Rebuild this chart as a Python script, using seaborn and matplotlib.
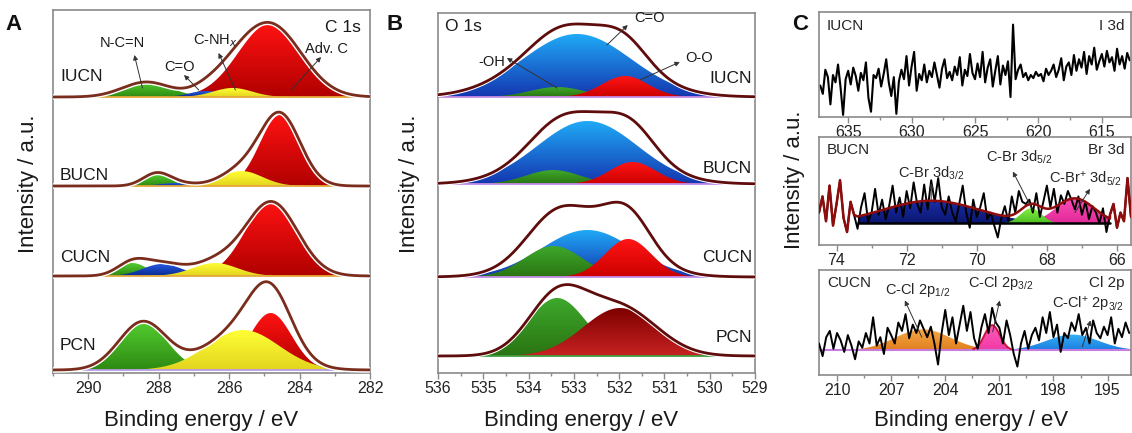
import numpy as np
import matplotlib
matplotlib.use('Agg')
import matplotlib.pyplot as plt
from matplotlib.colors import LinearSegmentedColormap
from matplotlib.ticker import MultipleLocator
import seaborn as sns

sns.set_theme(style='white')
plt.rcParams['font.family'] = ['Liberation Sans', 'DejaVu Sans']
plt.rcParams['mathtext.default'] = 'regular'
plt.rcParams['axes.unicode_minus'] = False

# ==================== data ====================
samples = ['IUCN', 'BUCN', 'CUCN', 'PCN']

# panel A, C 1s: (center eV, height, FWHM); heights in panel pixel units
c1s_offsets = [276, 187, 97, 3]
c1s_red = [(284.85, 73, 2.1), (284.55, 71, 1.35), (284.8, 74, 1.75), (284.82, 57, 1.4)]
c1s_yellow = [(285.9, 9, 1.3), (285.65, 15, 1.4), (286.4, 13, 1.5), (285.6, 40, 2.4)]
c1s_blue = [(286.66, 6, 1.1), (287.5, 3, 1.1), (287.9, 12, 1.3), None]
c1s_green = [(288.35, 15, 1.6), (288.07, 12, 0.9), (288.75, 13, 1.0), (288.45, 48, 1.6)]

# panel B, O 1s
o1s_offsets = [276, 189, 96, 17]
o1s_blue = [(532.93, 63, 2.8), (532.7, 63, 2.6), (532.7, 47, 2.4), None]
o1s_green = [(533.37, 10, 1.4), (533.46, 14, 1.4), (533.45, 31, 1.5), (533.37, 58, 1.5)]
o1s_red = [(531.87, 21, 1.2), (531.7, 22, 1.2), (531.8, 38, 1.2), (531.98, 48, 1.9)]

# panel C, I 3d raw counts (637.2 -> 612.8 eV, step 0.2)
i3d_counts = [
    0.30, 0.22, 0.45, 0.38, 0.12, 0.40, 0.33, 0.50, 0.28, 0.02, 0.36, 0.44,
    0.31, 0.47, 0.39, 0.25, 0.42, 0.35, 0.52, 0.18, 0.05, 0.40,
    0.37, 0.46, 0.29, 0.41, 0.55, 0.33, 0.20, 0.38, 0.03, 0.34,
    0.45, 0.36, 0.58, 0.30, 0.48, 0.62, 0.25, 0.41, 0.35, 0.50,
    0.33, 0.44, 0.38, 0.52, 0.40, 0.28, 0.46, 0.55, 0.37, 0.43,
    0.35, 0.48, 0.40, 0.57, 0.30, 0.45, 0.39, 0.60, 0.42, 0.36,
    0.51, 0.38, 0.62, 0.33, 0.47, 0.55, 0.29, 0.44, 0.58, 0.31,
    0.49, 0.40, 0.53, 0.19, 0.88, 0.36, 0.45, 0.50, 0.38, 0.42,
    0.35, 0.40, 0.37, 0.43, 0.39, 0.41, 0.34, 0.46, 0.40, 0.44,
    0.50, 0.38, 0.45, 0.56, 0.35, 0.48, 0.52, 0.40, 0.59, 0.44,
    0.55, 0.47, 0.62, 0.41, 0.58, 0.50, 0.66, 0.45, 0.53, 0.60,
    0.48, 0.63, 0.52, 0.57, 0.44, 0.65, 0.50, 0.58, 0.46, 0.61, 0.54,
]

# Br 3d raw counts (74.5 -> 65.6 eV, step 0.1)
br3d_counts = [
    0.30, 0.45, 0.22, 0.55, 0.18, 0.38, 0.60, 0.25, 0.12, 0.40,
    0.28, 0.15, 0.35, 0.48, 0.22, 0.30, 0.52, 0.28, 0.42, 0.24,
    0.36, 0.55, 0.30, 0.44, 0.26, 0.50, 0.34, 0.58, 0.38, 0.30,
    0.56, 0.33, 0.60, 0.40, 0.62, 0.35, 0.28, 0.45, 0.30, 0.22,
    0.38, 0.55, 0.30, 0.16, 0.42, 0.26, 0.35, 0.48, 0.24, 0.30,
    0.18, 0.07, 0.25, 0.36, 0.22, 0.45, 0.30, 0.50, 0.40, 0.38,
    0.42, 0.30, 0.48, 0.26, 0.40, 0.55, 0.35, 0.52, 0.30, 0.46,
    0.38, 0.50, 0.42, 0.33, 0.45, 0.28, 0.40, 0.24, 0.36, 0.30,
    0.20, 0.34, 0.12, 0.28, 0.38, 0.16, 0.30, 0.22, 0.62, 0.26,
]
br3d_window = (73.4, 66.2)
br3d_base = 0.20
br3d_peaks = {'blue': (71.3, 0.21, 3.2), 'pink': (67.2, 0.23, 1.3), 'green': (68.45, 0.14, 0.7)}

# Cl 2p raw counts (211.0 -> 193.8 eV, step 0.2)
cl2p_counts = [
    0.30, 0.18, 0.36, 0.42, 0.25, 0.40, 0.33, 0.22, 0.38, 0.28,
    0.15, 0.32, 0.26, 0.40, 0.30, 0.55, 0.28, 0.36, 0.20, 0.45,
    0.38, 0.30, 0.50, 0.42, 0.58, 0.35, 0.48, 0.40, 0.52, 0.44,
    0.36, 0.46, 0.30, 0.10, 0.40, 0.62, 0.38, 0.55, 0.30, 0.48,
    0.66, 0.42, 0.60, 0.35, 0.25, 0.45, 0.58, 0.40, 0.64, 0.50,
    0.45, 0.30, 0.52, 0.38, 0.20, 0.08, 0.30, 0.42, 0.25, 0.38,
    0.45, 0.33, 0.55, 0.40, 0.60, 0.36, 0.48, 0.22, 0.40, 0.35,
    0.50, 0.42, 0.58, 0.38, 0.45, 0.30, 0.52, 0.40, 0.35, 0.46,
    0.38, 0.55, 0.30, 0.44, 0.36, 0.50, 0.40,
]
cl2p_base = 0.235
cl2p_peaks = {'orange': (205.24, 0.20, 3.6), 'blue': (196.95, 0.15, 3.4), 'pink': (201.4, 0.24, 1.0)}


# ==================== helpers ====================
def gauss(x, peak):
    c, h, w = peak
    return h * np.exp(-4 * np.log(2) * (x - c) ** 2 / w ** 2)


def grad_fill(ax, x, base, top, c_top, c_bot, z=2):
    # fill with a vertical colour gradient (light top, dark bottom)
    poly = ax.fill_between(x, base, top, facecolor='none', edgecolor='none', zorder=z)
    cmap = LinearSegmentedColormap.from_list('g', [c_bot, c_top])
    y_lo, y_hi = np.min(base), np.max(top)
    im = ax.imshow(np.linspace(0, 1, 256).reshape(-1, 1), cmap=cmap, aspect='auto',
                   origin='lower', extent=[x.min(), x.max(), y_lo, y_hi],
                   zorder=z, interpolation='bilinear')
    im.set_clip_path(poly.get_paths()[0], transform=ax.transData)


def style_axis(ax):
    for s in ax.spines.values():
        s.set_color('#8a8a8a')
        s.set_linewidth(1.2)
    ax.set_yticks([])
    ax.tick_params(axis='x', which='both', direction='out', colors='#8a8a8a',
                   labelcolor='#222222', labelsize=11.5, bottom=True, pad=2)
    ax.tick_params(axis='x', which='major', length=4, width=1)
    ax.tick_params(axis='x', which='minor', length=2.5, width=1)


def arrow(ax, tail, head, ycoords='data'):
    ax.annotate('', xy=head, xytext=tail, xycoords=('data', ycoords), textcoords=('data', ycoords),
                arrowprops=dict(arrowstyle='-|>', color='#333333', lw=0.7,
                                mutation_scale=7, shrinkA=0, shrinkB=0), zorder=6)


W, H = 1132, 433
fig = plt.figure(figsize=(W / 100, H / 100), dpi=100)


def px_axes(l, t, r, b):
    return fig.add_axes([l / W, (H - b) / H, (r - l) / W, (b - t) / H])


# ==================== panel A ====================
axA = px_axes(53, 10, 370, 373)
eA = np.linspace(291, 282, 700)
colsA = {
    'red': ('#ff1212', '#b00000'),
    'green': ('#52cc30', '#2e8a12'),
    'blue': ('#2458e0', '#0a2a90'),
    'yellow': ('#ffff35', '#e2d41e'),
}
for i, name in enumerate(samples):
    off = c1s_offsets[i]
    comps = [('red', c1s_red[i]), ('green', c1s_green[i]), ('blue', c1s_blue[i]), ('yellow', c1s_yellow[i])]
    total = np.zeros_like(eA)
    for key, pk in comps:
        if pk is None:
            continue
        g = gauss(eA, pk)
        total += g
        grad_fill(axA, eA, off, off + g, *colsA[key], z=2)
    base_col = '#b79be6' if name == 'PCN' else '#e4a83a'
    axA.axhline(off, color=base_col, lw=1.3, zorder=2.5)
    axA.plot(eA, off + total, color='white', lw=4, zorder=3, solid_capstyle='butt')
    sns.lineplot(x=eA, y=off + total, ax=axA, color='#7a2d1c', lw=2.0, zorder=4,
                 estimator=None, sort=False)

A_label_y = [297, 198, 115, 28]
for name, y in zip(samples, A_label_y):
    axA.text(290.8, y, name, fontsize=12.5, ha='left', va='center', color='#1a1a1a', zorder=7)
axA.text(282.27, 346, 'C 1s', fontsize=12.5, ha='right', va='center', color='#1a1a1a')

a_notes = [
    ('N-C=N', (289.03, 330), (288.69, 318), (288.46, 285)),
    ('C=O', (287.42, 306), (287.28, 298), (286.86, 283)),
    ('C-NH$_{\\mathit{x}}$', (286.38, 332), (286.3, 320), (285.82, 283)),
    ('Adv. C', (283.25, 324), (283.39, 316), (284.24, 283)),
]
for txt, tpos, head, tail in a_notes:
    axA.text(*tpos, txt, fontsize=10.5, ha='center', va='center', color='#1a1a1a', zorder=7)
    arrow(axA, tail, head)

axA.set_xlim(291, 282)
axA.set_ylim(0, 363)
axA.xaxis.set_major_locator(MultipleLocator(2))
axA.xaxis.set_minor_locator(MultipleLocator(1))
style_axis(axA)

# ==================== panel B ====================
axB = px_axes(438, 13, 755, 373)
eB = np.linspace(536, 529, 700)
for i, name in enumerate(samples):
    off = o1s_offsets[i]
    red_cols = ('#7e0000', '#c82222') if name == 'PCN' else ('#ff1515', '#cc0000')
    comps = [('blue', o1s_blue[i], ('#20aaf6', '#1436b0')),
             ('green', o1s_green[i], ('#3ea82c', '#2a7412')),
             ('red', o1s_red[i], red_cols)]
    total = np.zeros_like(eB)
    for key, pk, cc in comps:
        if pk is None:
            continue
        g = gauss(eB, pk)
        total += g
        grad_fill(axB, eB, off, off + g, *cc, z=2)
    base_col = '#3fa040' if name == 'PCN' else '#c58be6'
    axB.axhline(off, color=base_col, lw=1.3, zorder=2.5)
    axB.plot(eB, off + total, color='white', lw=3.5, zorder=3)
    sns.lineplot(x=eB, y=off + total, ax=axB, color='#5e0c0c', lw=2.0, zorder=4,
                 estimator=None, sort=False)

B_label_y = [294, 204, 115, 36]
for name, y in zip(samples, B_label_y):
    axB.text(529.07, y, name, fontsize=12.5, ha='right', va='center', color='#1a1a1a', zorder=7)
axB.text(535.85, 346, 'O 1s', fontsize=12.5, ha='left', va='center', color='#1a1a1a')
b_notes = [
    ('-OH', (534.81, 311), (534.48, 315), (533.37, 285)),
    ('C=O', (531.32, 355), (531.81, 348), (532.27, 328)),
    ('O-O', (530.24, 315), (530.66, 311), (531.54, 293)),
]
for txt, tpos, head, tail in b_notes:
    axB.text(*tpos, txt, fontsize=10.5, ha='center', va='center', color='#1a1a1a', zorder=7)
    arrow(axB, tail, head)

axB.set_xlim(536, 529)
axB.set_ylim(0, 360)
axB.xaxis.set_major_locator(MultipleLocator(1))
axB.xaxis.set_minor_locator(MultipleLocator(0.5))
style_axis(axB)

# ==================== panel C ====================
# I 3d
axC1 = px_axes(819, 12, 1131, 117)
e_i = np.linspace(637.2, 612.8, len(i3d_counts))
sns.lineplot(x=e_i, y=i3d_counts, ax=axC1, color='black', lw=1.5, estimator=None, sort=False)
axC1.set_xlim(637.3, 612.7)
axC1.set_ylim(0, 1)
axC1.xaxis.set_major_locator(MultipleLocator(5))
axC1.xaxis.set_minor_locator(MultipleLocator(2.5))
axC1.text(0.025, 0.87, 'IUCN', transform=axC1.transAxes, fontsize=11, ha='left', va='center')
axC1.text(0.98, 0.87, 'I 3d', transform=axC1.transAxes, fontsize=11, ha='right', va='center')
style_axis(axC1)

# Br 3d
axC2 = px_axes(819, 137, 1131, 245)
e_br = np.linspace(74.5, 65.6, len(br3d_counts))
br_counts = np.array(br3d_counts)
e_fit = np.linspace(br3d_window[0], br3d_window[1], 400)
fit_sum = np.zeros_like(e_fit)
br_cols = {'blue': ('#1a2fa8', '#0a1670'), 'pink': ('#ff4cb8', '#e02a98'), 'green': ('#8cf04a', '#4cc020')}
for key in ['blue', 'pink', 'green']:
    g = gauss(e_fit, br3d_peaks[key])
    fit_sum += g
    grad_fill(axC2, e_fit, br3d_base, br3d_base + g, *br_cols[key], z=2)
axC2.plot([br3d_window[0], br3d_window[1]], [br3d_base, br3d_base], color='black', lw=1.8, zorder=2.6)
sns.lineplot(x=e_br, y=br_counts, ax=axC2, color='black', lw=1.4, estimator=None, sort=False, zorder=3)
left = e_br > br3d_window[0]
right = e_br < br3d_window[1]
env_x = np.concatenate([e_br[left], e_fit, e_br[right]])
env_y = np.concatenate([br_counts[left], br3d_base + fit_sum, br_counts[right]])
axC2.plot(env_x, env_y, color='#8e0c0c', lw=1.8, zorder=4)
axC2.set_xlim(74.5, 65.6)
axC2.set_ylim(0, 1)
axC2.xaxis.set_major_locator(MultipleLocator(2))
axC2.xaxis.set_minor_locator(MultipleLocator(1))
axC2.text(0.025, 0.88, 'BUCN', transform=axC2.transAxes, fontsize=11, ha='left', va='center')
axC2.text(0.98, 0.88, 'Br 3d', transform=axC2.transAxes, fontsize=11, ha='right', va='center')
c2_notes = [
    ('C-Br 3d$_{3/2}$', (71.31, 0.66), (71.3, 0.57), (71.3, 0.42)),
    ('C-Br 3d$_{5/2}$', (68.8, 0.81), (68.97, 0.68), (68.4, 0.32)),
    ('C-Br$^{+}$ 3d$_{5/2}$', (66.89, 0.61), (66.77, 0.52), (67.2, 0.30)),
]
for txt, tpos, head, tail in c2_notes:
    axC2.text(*tpos, txt, fontsize=10.5, ha='center', va='center', zorder=7)
    arrow(axC2, tail, head)
style_axis(axC2)

# Cl 2p
axC3 = px_axes(819, 270, 1131, 375)
e_cl = np.linspace(211.0, 193.8, len(cl2p_counts))
e_fit3 = np.linspace(211.0, 193.8, 500)
cl_cols = {'orange': ('#f7a848', '#e07f1e'), 'blue': ('#36b0f4', '#1c7ee0'), 'pink': ('#ff5cbc', '#f03aa4')}
for key in ['orange', 'blue', 'pink']:
    g = gauss(e_fit3, cl2p_peaks[key])
    grad_fill(axC3, e_fit3, cl2p_base, cl2p_base + g, *cl_cols[key], z=2)
    if key == 'pink':
        m = g > 0.01
        axC3.plot(e_fit3[m], cl2p_base + g[m], color='#c8143c', lw=1.4, zorder=3.5)
axC3.axhline(cl2p_base, color='#c77de0', lw=1.5, zorder=2.5)
sns.lineplot(x=e_cl, y=cl2p_counts, ax=axC3, color='black', lw=1.4, estimator=None, sort=False, zorder=4)
axC3.set_xlim(211.0, 193.7)
axC3.set_ylim(0, 1)
axC3.xaxis.set_major_locator(MultipleLocator(3))
axC3.xaxis.set_minor_locator(MultipleLocator(1.5))
axC3.text(0.025, 0.88, 'CUCN', transform=axC3.transAxes, fontsize=11, ha='left', va='center')
axC3.text(0.98, 0.88, 'Cl 2p', transform=axC3.transAxes, fontsize=11, ha='right', va='center')
c3_notes = [
    ('C-Cl 2p$_{1/2}$', (205.52, 0.81), (206.24, 0.71), (205.3, 0.36)),
    ('C-Cl 2p$_{3/2}$', (200.92, 0.88), (200.98, 0.71), (201.37, 0.41)),
    ('C-Cl$^{+}$ 2p$_{3/2}$', (196.1, 0.67), (195.94, 0.52), (196.4, 0.27)),
]
for txt, tpos, head, tail in c3_notes:
    axC3.text(*tpos, txt, fontsize=10.5, ha='center', va='center', zorder=7)
    arrow(axC3, tail, head)
style_axis(axC3)

# ==================== shared labels ====================
for x, y in [(0.025, 0.575), (0.362, 0.575), (0.702, 0.584)]:
    fig.text(x, y, 'Intensity / a.u.', rotation=90, ha='center', va='center', fontsize=16, color='#1a1a1a')
for x in [0.178, 0.513, 0.858]:
    fig.text(x, 0.03, 'Binding energy / eV', ha='center', va='center', fontsize=16, color='#1a1a1a')
for x, letter in [(14, 'A'), (395, 'B'), (800, 'C')]:
    fig.text(x / W, (H - 25) / H, letter, ha='center', va='center', fontsize=16,
             fontweight='bold', color='#111111')

fig.savefig('out.png', dpi=100)
